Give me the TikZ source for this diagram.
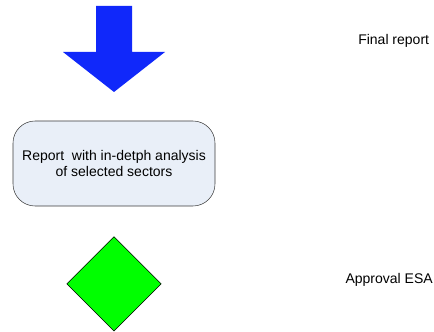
\documentclass[tikz,border=0pt]{standalone}
\usepackage{fontspec}
\setmainfont{Liberation Sans}
\usepackage{xcolor}
\usepackage{tikz}
\usetikzlibrary{positioning,shapes.geometric}

\definecolor{arrowblue}{RGB}{16,40,250}
\definecolor{boxfill}{RGB}{233,239,248}
\definecolor{boxline}{RGB}{60,60,60}

\begin{document}
\begin{tikzpicture}[x=0.75pt,y=-0.75pt,font=\fontsize{10.5}{12}\selectfont]
        \useasboundingbox (0,0) rectangle (434,331);
        \node (report) [rectangle, draw=boxline, fill=boxfill, rounded corners=16.5pt, minimum width=151.5pt, minimum height=63.75pt, align=center] at (114,163.5) {Report\ \ with in-detph analysis\\of selected sectors};
        \node (approval) [diamond, draw, fill=green, minimum width=71pt, minimum height=71pt, inner sep=0pt, below=22.5pt of report] {};
        \node (final) [anchor=base west, inner sep=0pt] at (358,45) {Final report};
        \node (esa) [anchor=base east, inner sep=0pt] at (433,283) {Approval ESA};
        
        \fill[arrowblue] (96,6) -- (132,6) -- (132,52) -- (165,52) -- (114,92) -- (63,52) -- (96,52) -- cycle;
    \end{tikzpicture}
\end{document}
